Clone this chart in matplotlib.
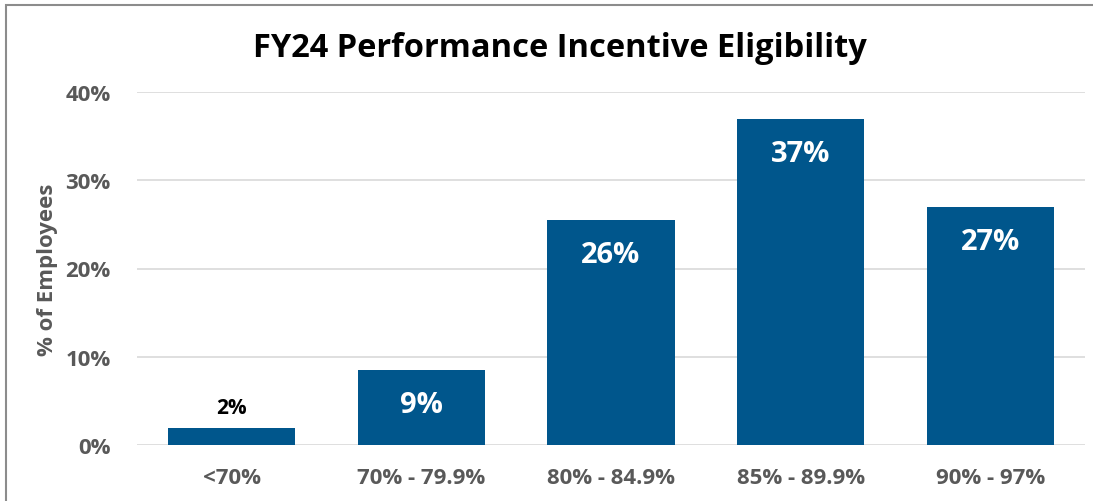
import matplotlib.pyplot as plt
from matplotlib.patches import Rectangle
from matplotlib.ticker import FuncFormatter

# Data
categories = ["<70%", "70% - 79.9%", "80% - 84.9%", "85% - 89.9%", "90% - 97%"]
pct_employees = [1.9, 8.5, 25.5, 36.9, 27.0]
bar_labels = ["2%", "9%", "26%", "37%", "27%"]

plt.rcParams['font.family'] = ['Open Sans', 'DejaVu Sans']

bar_color = '#00568C'
gray = '#595959'

fig = plt.figure(figsize=(10.93, 5.02), dpi=100)
ax = fig.add_axes([137 / 1093, 56 / 502, 948 / 1093, 353 / 502])

x = range(len(categories))
bars = ax.bar(x, pct_employees, width=0.67, color=bar_color, zorder=3)

# Value labels: white inside tall bars, black above the small one
for b, v, lab in zip(bars, pct_employees, bar_labels):
    cx = b.get_x() + b.get_width() / 2
    if v < 5:
        ax.text(cx, v + 2.4, lab, ha='center', va='center', fontsize=15,
                fontweight='bold', color='black')
    else:
        ax.text(cx, v - 3.9, lab, ha='center', va='center', fontsize=21,
                fontweight='bold', color='white')

ax.set_xlim(-0.5, 4.5)
ax.set_ylim(0, 40)
ax.set_yticks([0, 10, 20, 30, 40])
ax.yaxis.set_major_formatter(FuncFormatter(lambda v, p: f"{int(v)}%"))
ax.set_xticks(list(x))
ax.set_xticklabels(categories)

ax.grid(axis='y', color='#D9D9D9', linewidth=1.2, zorder=0)
for s in ax.spines.values():
    s.set_visible(False)
ax.tick_params(length=0, labelsize=16, labelcolor=gray)
for t in ax.get_xticklabels() + ax.get_yticklabels():
    t.set_fontweight('bold')
ax.tick_params(axis='x', pad=16)
ax.tick_params(axis='y', pad=19)

ax.set_ylabel("% of Employees", fontsize=16, fontweight='bold', color=gray, labelpad=5)

fig.text(0.512, 0.903, "FY24 Performance Incentive Eligibility", ha='center', va='center',
         fontsize=23.5, fontweight='bold', color='black')

# chart frame (cropped on right/bottom)
fig.patches.append(Rectangle((6 / 1093, -0.1), 1.2, (496 / 502) + 0.1,
                             transform=fig.transFigure, fill=False,
                             edgecolor='#8C8C8C', linewidth=1.5))

plt.savefig("out.png", dpi=100)
